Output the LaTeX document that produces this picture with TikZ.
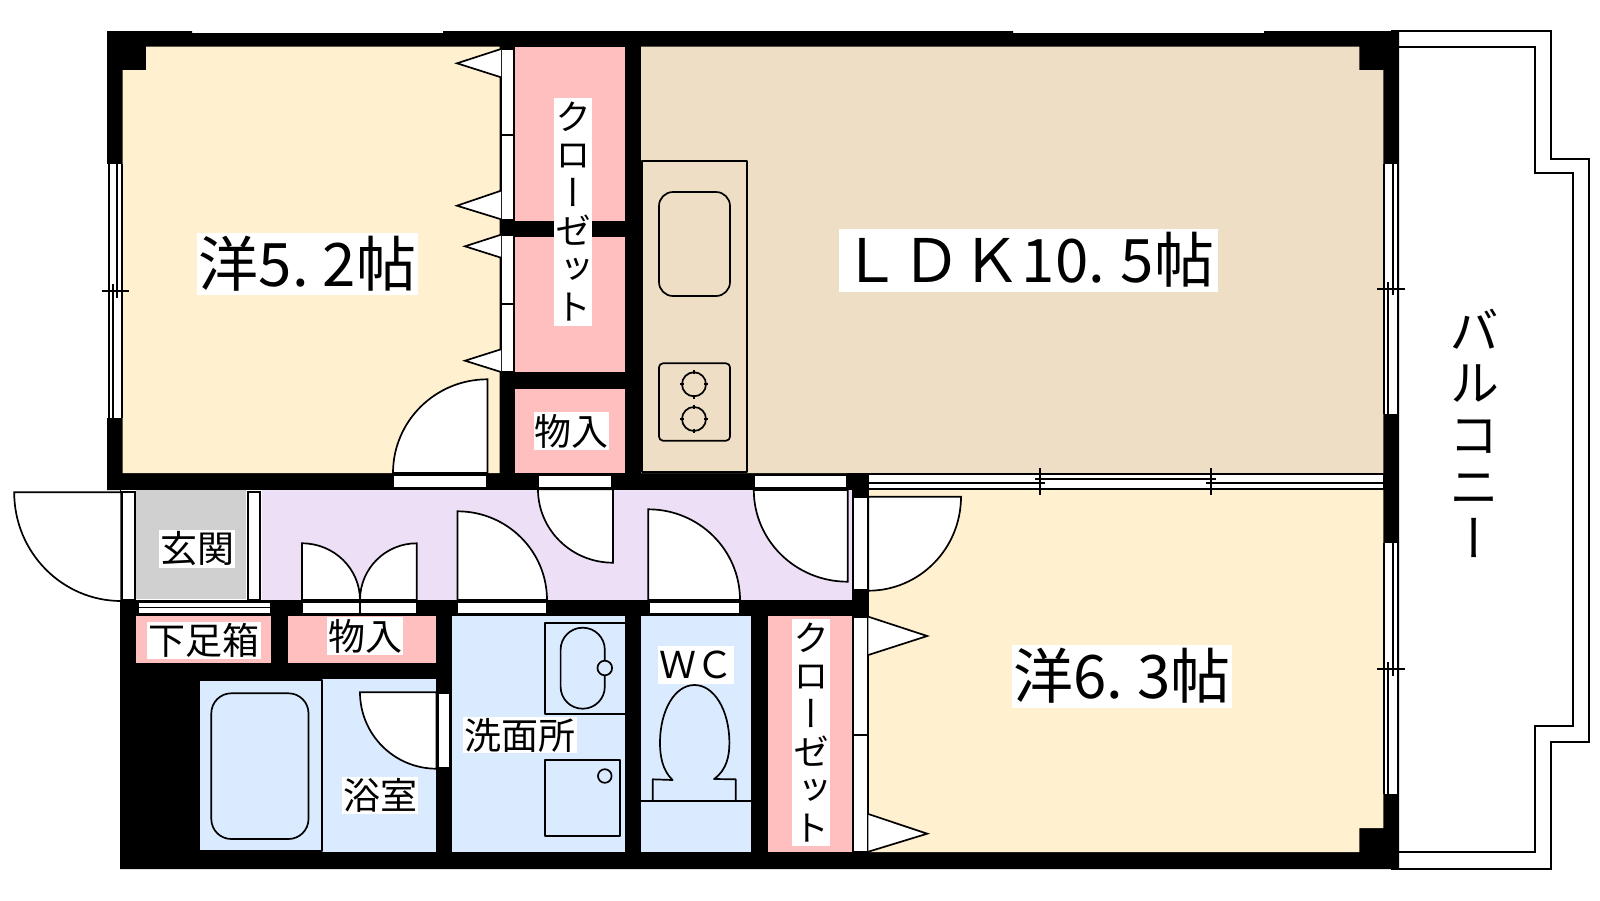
\documentclass[tikz,border=0pt]{standalone}
\usepackage{fontspec}
\newfontfamily\jpfont{Noto Sans CJK JP}
\newfontfamily\jpvert[RawFeature=+vert]{Noto Sans CJK JP}
\definecolor{roomcream}{HTML}{FFF0D0}
\definecolor{roombeige}{HTML}{EEDEC6}
\definecolor{roompink}{HTML}{FFBFBF}
\definecolor{roomlilac}{HTML}{EDDFF5}
\definecolor{roomblue}{HTML}{DBEBFF}
\definecolor{roomgrey}{HTML}{D0D0D0}
\tikzset{%
  thin0/.style = {draw=black, line width=1.7pt},
  panel/.style = {thin0, fill=white},
  fit0/.style  = {thin0, line join=round},
  base/.style  = {fill=white, inner sep=0pt, align=center, text=black},
  big0/.style  = {base, font=\jpfont\fontsize{60}{60}\selectfont},
  mid0/.style  = {base, font=\jpfont\fontsize{37}{39}\selectfont},
  tall0/.style = {base, font=\jpvert\fontsize{36}{38}\selectfont},
}
% hinge x, hinge y, reach along x, reach along y
\newcommand{\doorfan}[4]{%
  \draw[panel] (#1,#2) -- (#1+#3,#2)
    .. controls (#1+#3,#2+.5523*#4) and (#1+.5523*#3,#2+#4) .. (#1,#2+#4) -- cycle;}
\begin{document}
\begin{tikzpicture}[x=1pt, y=-1pt]
  \useasboundingbox (0,0) rectangle (1600,900);

  % balcony
  \draw[thin0] (1391,31) -- (1551,31) -- (1551,158.7) -- (1589,158.7) -- (1589,741.7)
    -- (1551,741.7) -- (1551,868.7) -- (1391,868.7);
  \draw[thin0] (1399,46.7) -- (1535.3,46.7) -- (1535.3,173.3) -- (1572.7,173.3) -- (1572.7,726)
    -- (1535.3,726) -- (1535.3,852.3) -- (1399,852.3);

  % walls
  \fill[black] (107,31) -- (192,31) -- (192,33) -- (443,33) -- (443,31) -- (1013,31) -- (1013,33)
    -- (1264,33) -- (1264,31) -- (1399,31) -- (1399,869) -- (120,869) -- (120,490) -- (107,490) -- cycle;

  % rooms
  \fill[roomcream] (146,46.7) -- (499.6,46.7) -- (499.6,473) -- (122.5,473) -- (122.5,70) -- (146,70) -- cycle;
  \fill[roombeige] (641,46.7) -- (1359.3,46.7) -- (1359.3,70) -- (1383.3,70) -- (1383.3,473) -- (641,473) -- cycle;
  \fill[roomcream] (869,490) -- (1383.3,490) -- (1383.3,828) -- (1359.3,828) -- (1359.3,852) -- (869,852) -- cycle;
  \fill[roompink] (515,46.7) rectangle (625,220.7);
  \fill[roompink] (515,236.7) rectangle (625,372);
  \fill[roompink] (515,389) rectangle (625,473);
  \fill[roompink] (136,616) rectangle (271,662.7);
  \fill[roompink] (288,616) rectangle (436,662.7);
  \fill[roompink] (768,615.7) rectangle (852.7,852);
  \fill[white] (121,490) rectangle (262,600);
  \fill[roomgrey] (136,490) rectangle (246,599.3);
  \fill[roomlilac] (262,490) rectangle (852.3,600);
  \fill[roomblue] (199,679) rectangle (436,851.7);
  \fill[roomblue] (452,616) rectangle (625,851.7);
  \fill[roomblue] (641,615.7) rectangle (751,852);
  \fill[black] (847.3,473.3) rectangle (869,490);

  % windows
  \fill[white] (107,164) rectangle (122.5,418);
  \draw[thin0] (108.7,164) -- (108.7,418);
  \draw[thin0] (121.7,164) -- (121.7,418);
  \draw[thin0] (117,164) -- (117,298.3);
  \draw[thin0] (113.3,284) -- (113.3,418);
  \draw[thin0] (101.7,291.3) -- (129.3,291.3);
  \fill[white] (1383.3,164) rectangle (1399,414);
  \draw[thin0] (1384.2,164) -- (1384.2,414);
  \draw[thin0] (1398,164) -- (1398,414);
  \draw[thin0] (1392.7,164) -- (1392.7,295);
  \draw[thin0] (1388,281.7) -- (1388,414);
  \draw[thin0] (1377.3,289.3) -- (1405,289.3);
  \fill[white] (1383.3,543.3) rectangle (1399,794.3);
  \draw[thin0] (1384.2,543.3) -- (1384.2,794.3);
  \draw[thin0] (1398,543.3) -- (1398,794.3);
  \draw[thin0] (1393,543.3) -- (1393,676);
  \draw[thin0] (1388,661.7) -- (1388,794.3);
  \draw[thin0] (1377.3,669.3) -- (1405,669.3);
  \fill[white] (869,473.3) rectangle (1383.3,490);
  \draw[thin0] (869,474.3) -- (1383.3,474.3);
  \draw[thin0] (869,488.7) -- (1383.3,488.7);
  \draw[thin0] (869,483.3) -- (1045,483.3);
  \draw[thin0] (1035,479) -- (1216,479);
  \draw[thin0] (1206,483.3) -- (1383.3,483.3);
  \draw[thin0] (1040.3,468) -- (1040.3,495);
  \draw[thin0] (1211.3,468) -- (1211.3,495);

  % door frames and closet panels
  \draw[panel] (393,475) rectangle (487,488.3);
  \draw[panel] (538,475) rectangle (612,488.3);
  \draw[panel] (753.8,475) rectangle (847.3,488.3);
  \draw[panel] (121.7,492.3) rectangle (134.7,600);
  \draw[panel] (248,492.3) rectangle (260,600);
  \draw[panel] (853.3,497.3) rectangle (867.8,590);
  \draw[panel] (302,602) rectangle (360,614);
  \draw[panel] (360,602) rectangle (416.7,614);
  \draw[panel] (457.5,602) rectangle (547,614);
  \draw[panel] (649,602) rectangle (740,614);
  \draw[panel] (437.7,693.3) rectangle (450.3,767.7);
  \draw[panel] (138,602) rectangle (270.6,607.5);
  \draw[panel] (138,607.5) rectangle (270.6,614);
  \draw[panel] (501,49) rectangle (514,134.7);
  \draw[panel] (501,134.7) rectangle (514,220);
  \draw[panel] (501,235.3) rectangle (514,303.7);
  \draw[panel] (501,303.7) rectangle (514,372);
  \draw[panel] (853.3,616.7) rectangle (867.8,734.7);
  \draw[panel] (853.3,734.7) rectangle (867.8,852);

  % folding leaves
  \draw[panel] (501,49) -- (457,63.3) -- (501,77.3);
  \draw[panel] (501,190.7) -- (457,205.7) -- (501,219.3);
  \draw[panel] (501,234.7) -- (465,246.3) -- (501,257.7);
  \draw[panel] (501,349.3) -- (465,360.7) -- (501,372);
  \draw[panel] (868.3,616.7) -- (927.2,636) -- (868.3,655);
  \draw[panel] (868.3,814) -- (927.2,833.7) -- (868.3,851.7);

  % doors
  \doorfan{487.4}{473}{-94.4}{-93.7}
  \doorfan{121.2}{492.3}{-107}{108.7}
  \doorfan{302}{600}{58}{-56.7}
  \doorfan{416.7}{600}{-56.7}{-56.7}
  \doorfan{457.5}{600}{89.5}{-88.7}
  \doorfan{613}{489.3}{-75}{73.4}
  \doorfan{648.2}{600}{91.8}{-90.7}
  \doorfan{847.7}{490}{-93.9}{91.7}
  \doorfan{868.3}{496.7}{92.7}{94}
  \doorfan{436.5}{692.3}{-76.5}{76.4}

  % kitchen
  \draw[fit0] (642.3,161.3) rectangle (747,471.7);
  \draw[fit0, rounded corners=14pt] (659,192) rectangle (730,296);
  \draw[fit0, rounded corners=4pt] (659,363.3) rectangle (730,440.7);
  \draw[fit0] (694,384.3) circle[radius=12];
  \draw[fit0] (694,419) circle[radius=12];
  \draw[fit0] (694,370) -- (694,374); \draw[fit0] (694,395) -- (694,399);
  \draw[fit0] (679.7,384.3) -- (683.7,384.3); \draw[fit0] (704.3,384.3) -- (708.3,384.3);
  \draw[fit0] (694,404.7) -- (694,408.7); \draw[fit0] (694,429.3) -- (694,433.3);
  \draw[fit0] (679.7,419) -- (683.7,419); \draw[fit0] (704.3,419) -- (708.3,419);

  % bath, wash room, toilet
  \draw[fit0] (199,680) rectangle (322,850.7);
  \draw[fit0, rounded corners=20pt] (211.3,693.3) rectangle (308.5,839);
  \draw[fit0] (625,623.3) -- (545,623.3) -- (545,714) -- (625,714);
  \draw[fit0, rounded corners=22pt] (560.6,627.7) rectangle (604.8,708.7);
  \draw[fit0, fill=roomblue] (604.8,668) circle[radius=7.3];
  \draw[fit0] (545,760) rectangle (620,835.7);
  \draw[fit0] (604.8,776) circle[radius=6.8];
  \draw[fit0] (641,801) -- (751,801);
  \draw[fit0] (672.6,780) .. controls (662,770) and (660,755) .. (660,743)
    .. controls (660,710) and (675,685) .. (694.5,685)
    .. controls (714,685) and (729.4,710) .. (729.4,743)
    .. controls (729.4,755) and (727,770) .. (714,779)
    -- (735.7,779.3) -- (735.7,801) -- (652.8,801) -- (652.8,779.3) -- cycle;

  % labels
  \node (onWest)    [big0, minimum width=221pt, minimum height=62pt] at (307.5,264) {洋5.\hspace{14pt}2帖};
  \node (onEast)    [big0, minimum width=220pt, minimum height=63pt] at (1122,676) {洋6.\hspace{14pt}3帖};
  \node (onLiving)  [big0, minimum width=379pt, minimum height=63pt] at (1028,260) {ＬＤＫ10.\hspace{16pt}5帖};
  \node (onClosetA) [tall0, minimum width=38pt, minimum height=228pt] at (573,212)
  {ク\\ロ\\ー\\ゼ\\ッ\\ト};
  \node (onClosetB) [tall0, minimum width=38pt, minimum height=227pt] at (811,732.5)
  {ク\\ロ\\ー\\ゼ\\ッ\\ト};
  \node (onStoreA)  [mid0, minimum width=75pt, minimum height=38pt] at (571.5,431) {物入};
  \node (onStoreB)  [mid0, minimum width=76pt, minimum height=38pt] at (365,636) {物入};
  \node (onEntry)   [mid0, minimum width=76pt, minimum height=38pt] at (197,549) {玄関};
  \node (onShoes)   [mid0, minimum width=114pt, minimum height=37pt] at (204,640) {下足箱};
  \node (onBath)    [mid0, minimum width=76pt, minimum height=37pt] at (380,795) {浴室};
  \node (onWash)    [mid0, minimum width=114pt, minimum height=36pt] at (520,735) {洗面所};
  \node (onToilet)  [mid0, minimum width=76pt, minimum height=38pt] at (696,665) {ＷＣ};
  \node (onBalcony) [font=\jpvert\fontsize{50}{52}\selectfont, align=center, inner sep=0pt] at (1474,433)
  {バ\\ル\\コ\\ニ\\ー};
\end{tikzpicture}
\end{document}
